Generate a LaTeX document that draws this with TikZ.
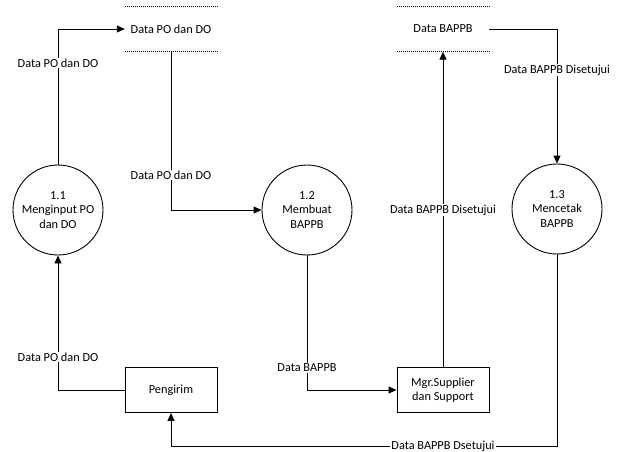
\documentclass[tikz,border=0pt]{standalone}
\usepackage{fontspec}
\setmainfont{Carlito}
\usetikzlibrary{arrows.meta}
\begin{document}
\begin{tikzpicture}[x=1pt,y=-1pt,
  every node/.style={font=\fontsize{12.3}{14.5}\selectfont},
  flow/.style={line width=0.9pt},
  arr/.style={flow,-{Triangle[length=8pt,width=7pt]}},
  proc/.style={circle,draw,line width=0.9pt,minimum size=90pt,inner sep=0pt,align=center},
  ent/.style={rectangle,draw,line width=0.9pt,minimum width=92pt,minimum height=45pt,inner sep=2pt,align=center},
  store/.style={rectangle,minimum width=92pt,minimum height=45pt,inner sep=0pt},
  lbl/.style={fill=white,inner sep=1pt},
  storeline/.style={line width=0.8pt,dash pattern=on 1pt off 1pt}]
\useasboundingbox (0,0) rectangle (626,451);

% processes
\node[proc] (c1) at (58,210) {1.1\\Menginput PO\\dan DO};
\node[proc] (c2) at (307,210) {1.2\\Membuat\\BAPPB};
\node[proc] (c3) at (557,209) {1.3\\Mencetak\\BAPPB};

% external entities
\node[ent] (peng) at (171,390) {Pengirim};
\node[ent] (mgr) at (443,390) {Mgr.Supplier\\dan Support};

% data stores
\node[store] (s1) at (171,29) {Data PO dan DO};
\node[store] (s2) at (443,29) {Data BAPPB};
\draw[storeline] (s1.north west) -- (s1.north east);
\draw[storeline] (s1.south west) -- (s1.south east);
\draw[storeline] (s2.north west) -- (s2.north east);
\draw[storeline] (s2.south west) -- (s2.south east);

\coordinate (bend) at (557,446);

% flows
\draw[arr] (peng.west) -| (c1.south);
\draw[arr] (c1.north) |- (s1.west);
\draw[arr] (s1.south) |- (c2.west);
\draw[arr] (c2.south) |- (mgr.west);
\draw[arr] (mgr.north) -- (s2.south);
\draw[arr] (s2.east) -| (c3.north);
\draw[arr] (c3.south) -- (bend) -| (peng.south);

% flow labels
\node[lbl] (l1) at (58,357) {Data PO dan DO};
\node[lbl] (l2) at (58,63) {Data PO dan DO};
\node[lbl] (l3) at (171,175) {Data PO dan DO};
\node[lbl] (l4) at (307,368) {Data BAPPB};
\node[lbl] (l5) at (443,210) {Data BAPPB Disetujui};
\node[lbl] (l6) at (557,70) {Data BAPPB Disetujui};
\node[lbl] (l7) at (443,446) {Data BAPPB Dsetujui};
\end{tikzpicture}
\end{document}
